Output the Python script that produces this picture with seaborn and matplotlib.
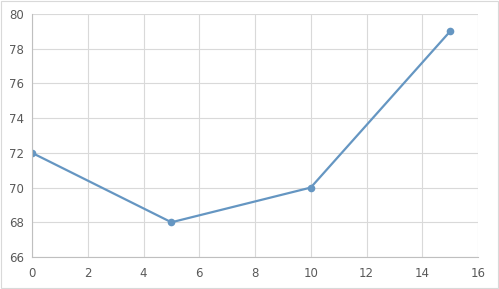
import matplotlib
matplotlib.use("Agg")
import matplotlib.pyplot as plt
import seaborn as sns
import pandas as pd

x_values = [0, 5, 10, 15]
y_values = [72, 68, 70, 79]
x_ticks = [0, 2, 4, 6, 8, 10, 12, 14, 16]
y_ticks = [66, 68, 70, 72, 74, 76, 78, 80]

df = pd.DataFrame({"x": x_values, "y": y_values})

sns.set_theme(style="white")
plt.rcParams['font.family'] = ['DejaVu Sans']

fig = plt.figure(figsize=(4.99, 2.89), dpi=100)
ax = fig.add_axes([32/499, 32/289, (478-32)/499, (257-14)/289])

color = "#6596C2"
sns.lineplot(data=df, x="x", y="y", ax=ax, color=color, linewidth=1.6,
             marker="o", markersize=5.5, markeredgewidth=0, sort=False)

ax.set_xlim(0, 16)
ax.set_ylim(66, 80)
ax.set_xticks(x_ticks)
ax.set_yticks(y_ticks)
ax.set_xlabel("")
ax.set_ylabel("")
ax.grid(True, color="#D9D9D9", linewidth=0.8)
ax.set_axisbelow(True)
for side in ["top", "right"]:
    ax.spines[side].set_visible(False)
for side in ["left", "bottom"]:
    ax.spines[side].set_color("#BFBFBF")
    ax.spines[side].set_linewidth(0.8)
ax.tick_params(axis="both", length=0, labelsize=8.5, labelcolor="#595959")
ax.tick_params(axis="x", pad=7)
ax.tick_params(axis="y", pad=6)

fig.patches.append(plt.Rectangle((0.002, 0.003), 0.996, 0.994, transform=fig.transFigure,
                                 fill=False, edgecolor="#D9D9D9", linewidth=0.8))

fig.savefig("out.png", dpi=100)
